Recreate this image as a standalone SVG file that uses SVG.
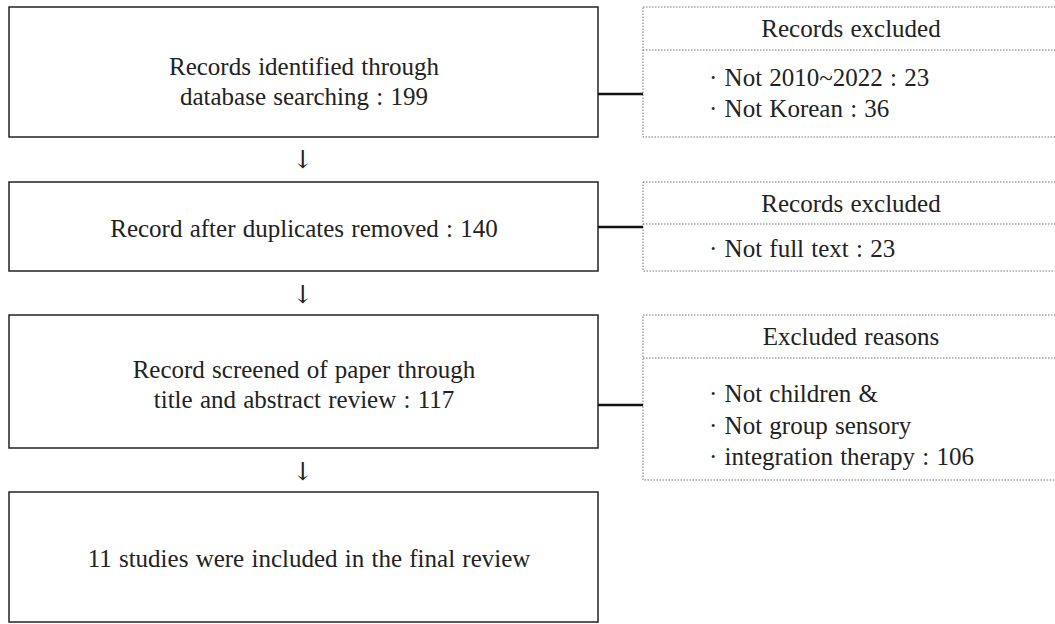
<svg xmlns="http://www.w3.org/2000/svg" width="1055" height="624" viewBox="0 0 1055 624">
<style>
.box{fill:#fff;stroke:#222;stroke-width:1.5}
.ex{fill:#fff;stroke:#777;stroke-width:1;stroke-dasharray:1.5 1.5}
.div{stroke:#777;stroke-width:1;stroke-dasharray:1.5 1.5}
.t{font-family:"Liberation Serif","DejaVu Serif",serif;font-size:25px;fill:#222;word-spacing:1px}
.c{text-anchor:middle}
.arr{font-family:"DejaVu Serif","Liberation Serif",serif;font-size:25px;fill:#222;text-anchor:middle}
.con{stroke:#111;stroke-width:2.6;fill:none}
</style>
<rect width="1055" height="624" fill="#fff"/>
<g id="n1"><rect class="box" x="9" y="7" width="589" height="130"/>
<text class="t c" x="304" y="75">Records identified through</text>
<text class="t c" x="304" y="105">database searching : 199</text></g>
<g id="n2"><rect class="box" x="9" y="182" width="589" height="89"/>
<text class="t c" x="304" y="237">Record after duplicates removed : 140</text></g>
<g id="n3"><rect class="box" x="9" y="315" width="589" height="133"/>
<text class="t c" x="304" y="378">Record screened of paper through</text>
<text class="t c" x="304" y="408">title and abstract review : 117</text></g>
<g id="n4"><rect class="box" x="9" y="492" width="589" height="130"/>
<text class="t c" x="309" y="567">11 studies were included in the final review</text></g>
<g id="e1"><rect class="ex" x="643" y="7" width="420" height="130"/>
<line class="div" x1="643" y1="50" x2="1055" y2="50"/>
<text class="t c" x="851" y="37">Records excluded</text>
<text class="t" x="709" y="86">· Not 2010~2022 : 23</text>
<text class="t" x="709" y="117">· Not Korean : 36</text></g>
<g id="e2"><rect class="ex" x="643" y="182" width="420" height="89"/>
<line class="div" x1="643" y1="224" x2="1055" y2="224"/>
<text class="t c" x="851" y="212">Records excluded</text>
<text class="t" x="709" y="257">· Not full text : 23</text></g>
<g id="e3"><rect class="ex" x="643" y="315" width="420" height="165"/>
<line class="div" x1="643" y1="358" x2="1055" y2="358"/>
<text class="t c" x="851" y="345">Excluded reasons</text>
<text class="t" x="709" y="402">· Not children &amp;</text>
<text class="t" x="709" y="434">· Not group sensory</text>
<text class="t" x="709" y="465">· integration therapy : 106</text></g>
<g id="connectors">
<text class="arr" x="303" y="168">↓</text>
<text class="arr" x="303" y="303">↓</text>
<text class="arr" x="303" y="480">↓</text>
<line class="con" x1="598" y1="94" x2="643" y2="94"/>
<line class="con" x1="598" y1="227" x2="643" y2="227"/>
<line class="con" x1="598" y1="405" x2="643" y2="405"/>
</g>
</svg>
